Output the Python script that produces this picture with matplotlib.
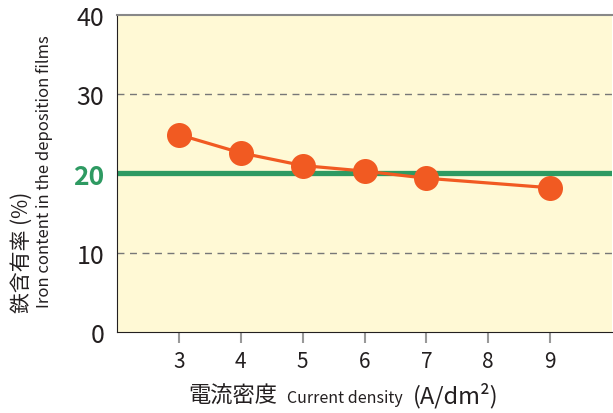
import matplotlib
matplotlib.use("Agg")
import matplotlib.pyplot as plt
from matplotlib.offsetbox import TextArea, HPacker, AnchoredOffsetbox

plt.rcParams['font.family'] = ['Noto Sans CJK JP', 'DejaVu Sans']

# data
current_density = [3, 4, 5, 6, 7, 9]
iron_content = [24.9, 22.6, 21.0, 20.3, 19.4, 18.2]
x_ticks = [3, 4, 5, 6, 7, 8, 9]
y_ticks = [0, 10, 20, 30, 40]
target_level = 20
grid_levels = [10, 30]

BG = "#FFF9D5"
ORANGE = "#F15A22"
GREEN = "#2E9A62"
TXT = "#231F20"

fig = plt.figure(figsize=(6.13, 4.14), dpi=100)
ax = fig.add_axes([0.1909, 0.1957, 0.8075, 0.7657])
ax.set_facecolor(BG)

for lv in grid_levels:
    ax.axhline(lv, color="#777777", lw=1.0, ls=(0, (5, 4)), zorder=1)
ax.axhline(target_level, color=GREEN, lw=3.8, zorder=2)

ax.plot(current_density, iron_content, color=ORANGE, lw=2.3, marker="o",
        markersize=18, markeredgewidth=0, zorder=3, clip_on=False)

ax.set_xlim(2, 10)
ax.set_ylim(0, 40)
ax.set_xticks(x_ticks)
ax.set_yticks(y_ticks)
ax.set_xticklabels([str(v) for v in x_ticks], fontsize=15, color=TXT)
ax.set_yticklabels([str(v) for v in y_ticks], fontsize=18, color=TXT)
ax.tick_params(axis="x", length=8, width=1.5, color="#999999", pad=5)
ax.tick_params(axis="y", length=0, pad=9)
for lab in ax.get_yticklabels():
    if lab.get_text() == str(target_level):
        lab.set_color(GREEN)
        lab.set_fontweight("bold")
        lab.set_fontsize(19)

ax.spines["right"].set_visible(False)
ax.spines["top"].set_color("#888888")
ax.spines["top"].set_linewidth(1.5)
ax.spines["left"].set_color(TXT)
ax.spines["bottom"].set_color(TXT)

# y label (two lines), bottom aligned
fig.text(0.036, 0.245, "鉄含有率 (%)", rotation=90, ha="center", va="bottom",
         fontsize=15, color=TXT)
fig.text(0.073, 0.255, "Iron content in the deposition films", rotation=90,
         ha="center", va="bottom", fontsize=12, color=TXT)

# x label with mixed sizes
parts = [TextArea("電流密度", textprops=dict(fontsize=16, color=TXT)),
         TextArea("Current density", textprops=dict(fontsize=11.5, color=TXT)),
         TextArea("(A/dm²)", textprops=dict(fontsize=17, color=TXT))]
box = HPacker(children=parts, align="baseline", pad=0, sep=7)
anch = AnchoredOffsetbox(loc="center", child=box, frameon=False,
                         bbox_to_anchor=(0.56, 0.045), bbox_transform=fig.transFigure,
                         borderpad=0, pad=0)
fig.add_artist(anch)

fig.savefig("out.png", dpi=100)
